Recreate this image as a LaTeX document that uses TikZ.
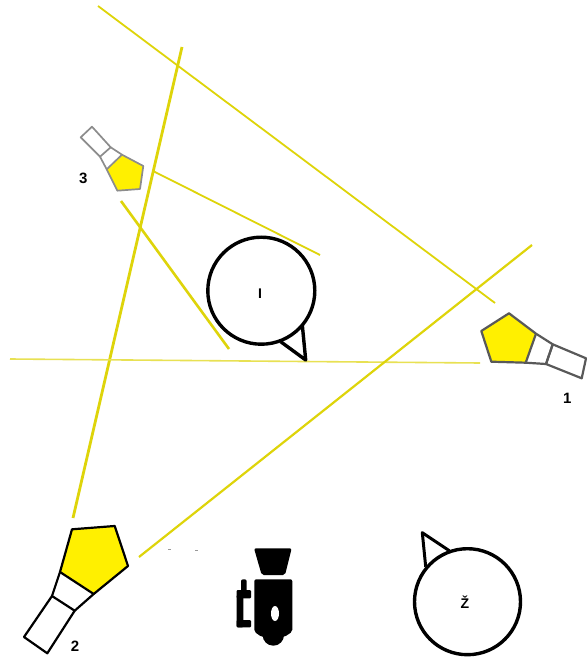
\documentclass[tikz,border=0pt]{standalone}
\usepackage{fontspec}
\setmainfont{Liberation Sans}
\definecolor{beamyellow}{RGB}{222,212,10}
\definecolor{lampyellow}{RGB}{255,240,0}
\tikzset{
	beam/.style={draw=beamyellow,line width=1.8pt},
	lamp/.style={line join=round,line width=2.2pt},
	head/.style={lamp,fill=lampyellow},
	actor/.style={draw,line width=3.4pt},
	tag/.style={font=\bfseries\fontsize{15}{17}\selectfont,text=black,inner sep=0pt}
}
\begin{document}
\begin{tikzpicture}[x=1pt,y=-1pt]
	\useasboundingbox (0,0) rectangle (586,660);

	\draw[beam] (98,6) -- (495,303);
	\draw[beam,line width=2.8pt] (182,47) -- (73,518);
	\draw[beam] (153,171) -- (320,255);
	\draw[beam,line width=2.6pt] (121,201) -- (229,349);
	\draw[beam,line width=1.6pt,draw=beamyellow!70] (10,359) -- (480,363);
	\draw[beam,line width=2.2pt] (532,245) -- (139,557);

	\draw[lamp,black!65] (552.7,344.3) -- (586,358.3) -- (581.7,378.3) -- (546,364) -- cycle;
	\draw[lamp,black!65] (536,333.7) -- (552.7,344.3) -- (546,364) -- (525.7,362.7);
	\draw[head,draw=black!65] (509,313.3) -- (536,333.7) -- (525.7,362.7) -- (491.3,361.7) -- (481.3,331) -- cycle;

	\draw[lamp] (52,596) -- (74.7,610.7) -- (47.3,653.3) -- (24,637) -- cycle;
	\draw[lamp] (60,572) -- (52,596);
	\draw[lamp] (93.7,594) -- (74.7,610.7);
	\draw[head] (72,529.3) -- (114.7,526) -- (128,566) -- (93.7,594) -- (60,572) -- cycle;

	\draw[lamp,black!45,line width=1.7pt] (110.7,147.3) -- (100,156.7) -- (80.7,137.3) -- (92,126.7) -- cycle;
	\draw[lamp,black!45,line width=1.7pt] (106.7,169.3) -- (100,156.7);
	\draw[lamp,black!45,line width=1.7pt] (122,154.7) -- (110.7,147.3);
	\draw[head,draw=black!45,line width=1.7pt] (122,154.7) -- (143.3,166) -- (140,189) -- (117.3,190.7) -- (106.7,169.3) -- cycle;

	\draw[actor] (261.3,290.7) circle (53.5);
	\draw[actor,line join=round] (280.7,341.7) -- (305.7,360) -- (302.3,325);
	\draw[actor] (467.5,601.7) circle (53);
	\draw[actor,line width=3pt,line join=round] (449.3,550.7) -- (422.3,532.7) -- (425.7,566.7);

	\fill[rounded corners=2pt] (254,548.3) -- (291.7,548.3) -- (285,575) -- (261.7,575) -- cycle;
	\fill[rounded corners=2pt] (254.3,579.3) -- (292.3,579.3) -- (292.3,631.7) -- (284.3,637) -- (261.7,637) -- (254.3,631.7) -- cycle;
	\fill (273.3,635) circle (10.7);
	\fill[white] (275,613.5) ellipse (4 and 7.5);
	\fill[rounded corners=2pt] (241,579.3) rectangle (246.7,592);
	\fill[rounded corners=1pt] (236.7,590) rectangle (251,598.3);
	\fill[rounded corners=1pt] (236.7,595) rectangle (243.3,627.3);
	\fill[rounded corners=1pt] (236.7,620) rectangle (251,627.3);

	\draw[black!40,line width=0.7pt] (168,549.5) -- (171,549.5);
	\draw[black!40,line width=0.7pt] (195,550) -- (198,550);

	\node[tag] (tagone) at (567.3,398.7) {1};
	\node[tag] (tagtwo) at (75,646.7) {2};
	\node[tag] (tagthree) at (83.3,178) {3};
	\node[tag,font=\bfseries\fontsize{14}{16}\selectfont] (tagi) at (260,293.3) {I};
	\node[tag,font=\bfseries\fontsize{14}{16}\selectfont] (tagz) at (465,602) {Ž};
\end{tikzpicture}
\end{document}
